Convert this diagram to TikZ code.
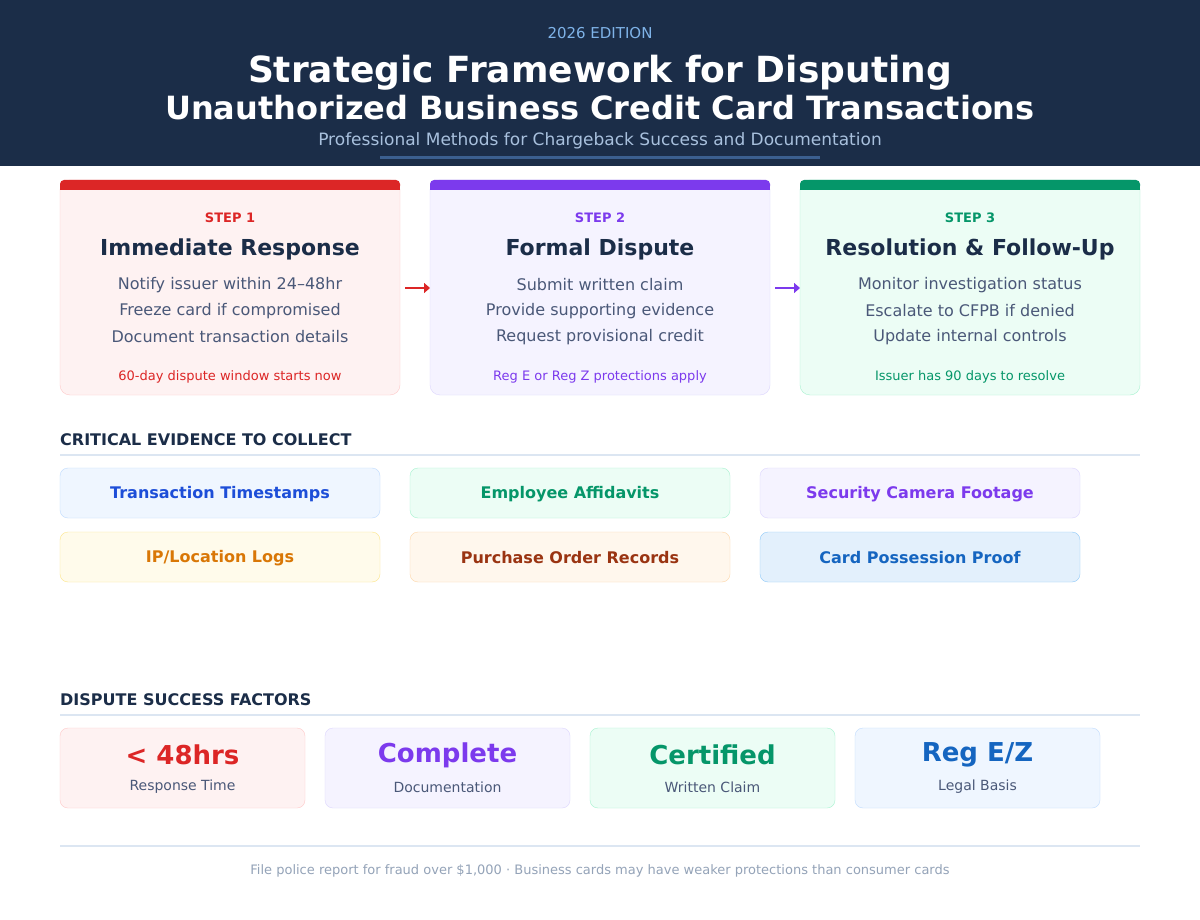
\documentclass[tikz,border=0pt]{standalone}
\usepackage{fontspec}
\setmainfont{DejaVu Sans}
\usetikzlibrary{arrows.meta}
\definecolor{navy}{HTML}{1B2D48}
\definecolor{edl}{HTML}{7FB3E8}
\definecolor{subt}{HTML}{A8C0DD}
\definecolor{uline}{HTML}{3B5F8F}
\definecolor{body}{HTML}{4A5878}
\definecolor{rl}{HTML}{DCE6F2}
\definecolor{foot}{HTML}{94A3B8}
\definecolor{cR}{HTML}{DC2626}\definecolor{bR}{HTML}{FEF2F2}\definecolor{dR}{HTML}{FECACA}
\definecolor{cP}{HTML}{7C3AED}\definecolor{bP}{HTML}{F5F3FF}\definecolor{dP}{HTML}{DDD6FE}
\definecolor{cG}{HTML}{059669}\definecolor{bG}{HTML}{ECFDF5}\definecolor{dG}{HTML}{A7F3D0}
\definecolor{cB}{HTML}{1D4ED8}\definecolor{bB}{HTML}{EFF6FF}\definecolor{dB}{HTML}{BFDBFE}
\definecolor{cA}{HTML}{D97706}\definecolor{bA}{HTML}{FFFBEB}\definecolor{dA}{HTML}{FDE68A}
\definecolor{cO}{HTML}{9A3412}\definecolor{bO}{HTML}{FFF7ED}\definecolor{dO}{HTML}{FED7AA}
\definecolor{cC}{HTML}{1565C0}\definecolor{bC}{HTML}{E3F0FC}\definecolor{dC}{HTML}{90CAF9}
\newcommand{\fs}[1]{\fontsize{#1pt}{#1pt}\selectfont}
\tikzset{x=1pt,y=-1pt,
 txt/.style={inner sep=0pt,anchor=center},
 ev/.style={txt,font=\fs{16}\bfseries},
 sec/.style={inner sep=0pt,anchor=west,font=\fs{16}\bfseries,text=navy},
 arr/.style={-{Triangle[length=6pt,width=10pt]},line width=1.8pt}}
\begin{document}
\begin{tikzpicture}
\useasboundingbox (0,0) rectangle (1200,920);
\fill[white] (0,0) rectangle (1200,920);
\fill[navy] (0,0) rectangle (1200,166);
\node[txt,font=\fs{15},text=edl] (ed) at (600,33) {2026 EDITION};
\node[txt,font=\fs{36}\bfseries,text=white] (t1) at (600,73) {Strategic Framework for Disputing};
\node[txt,font=\fs{32}\bfseries,text=white] (t2) at (600,108) {Unauthorized Business Credit Card Transactions};
\node[txt,font=\fs{17},text=subt] (st) at (600,141) {Professional Methods for Chargeback Success and Documentation};
\draw[uline,line width=3pt] (380,158) -- (820,158);
% steps
\foreach \x/\c/\b/\d/\n/\ti/\la/\lb/\lc/\f in {
 60/cR/bR/dR/1/Immediate Response/Notify issuer within 24–48hr/Freeze card if compromised/Document transaction details/60-day dispute window starts now,
 430/cP/bP/dP/2/Formal Dispute/Submit written claim/Provide supporting evidence/Request provisional credit/Reg E or Reg Z protections apply,
 800/cG/bG/dG/3/Resolution \& Follow-Up/Monitor investigation status/Escalate to CFPB if denied/Update internal controls/Issuer has 90 days to resolve}{
 \draw[fill=\b,draw=\d,rounded corners=10pt] (\x,180) rectangle (\x+340,395);
 \fill[\c,rounded corners=4pt] (\x,180) rectangle (\x+340,190);
 \fill[\c] (\x,185) rectangle (\x+340,190);
 \node[txt,font=\fs{13}\bfseries,text=\c] (s\n) at (\x+170,218) {STEP \n};
 \node[txt,font=\fs{22}\bfseries,text=navy] (h\n) at (\x+170,249) {\ti};
 \node[txt,font=\fs{16},text=body] at (\x+170,285) {\la};
 \node[txt,font=\fs{16},text=body] at (\x+170,311) {\lb};
 \node[txt,font=\fs{16},text=body] at (\x+170,337) {\lc};
 \node[txt,font=\fs{13},text=\c] at (\x+170,377) {\f};
 \coordinate (L\n) at (\x,288); \coordinate (R\n) at (\x+340,288);
}
\coordinate (a1) at (405,288); \coordinate (a2) at (775,288);
\draw[arr,cR] (a1) -- (L2);
\draw[arr,cP] (a2) -- (L3);
% evidence
\node[sec] (sec1) at (60,440) {CRITICAL EVIDENCE TO COLLECT};
\draw[rl,line width=1.5pt] (60,455) -- (1140,455);
\foreach \x/\y/\c/\b/\d/\t in {
 60/468/cB/bB/dB/Transaction Timestamps, 410/468/cG/bG/dG/Employee Affidavits, 760/468/cP/bP/dP/Security Camera Footage,
 60/532/cA/bA/dA/{IP{/}Location Logs}, 410/532/cO/bO/dO/Purchase Order Records, 760/532/cC/bC/dC/Card Possession Proof}{
 \draw[fill=\b,draw=\d,rounded corners=8pt] (\x,\y) rectangle (\x+320,\y+50);
 \node[ev,text=\c] at (\x+160,\y+26) {\t};
}
% factors
\node[sec] (sec2) at (60,700) {DISPUTE SUCCESS FACTORS};
\draw[rl,line width=1.5pt] (60,715) -- (1140,715);
\foreach \x/\c/\b/\d/\t/\s in {
 60/cR/bR/dR/{< 48hrs}/Response Time, 325/cP/bP/dP/Complete/Documentation,
 590/cG/bG/dG/Certified/Written Claim, 855/cC/bB/dB/{Reg E{/}Z}/Legal Basis}{
 \draw[fill=\b,draw=\d,rounded corners=8pt] (\x,728) rectangle (\x+245,808);
 \node[txt,font=\fs{26}\bfseries,text=\c] at (\x+122.5,755) {\t};
 \node[txt,font=\fs{14},text=body] at (\x+122.5,787) {\s};
}
\draw[rl,line width=1.5pt] (60,846) -- (1140,846);
\node[txt,font=\fs{13},text=foot] (ft) at (600,871) {File police report for fraud over \$1,000 · Business cards may have weaker protections than consumer cards};
\end{tikzpicture}
\end{document}
